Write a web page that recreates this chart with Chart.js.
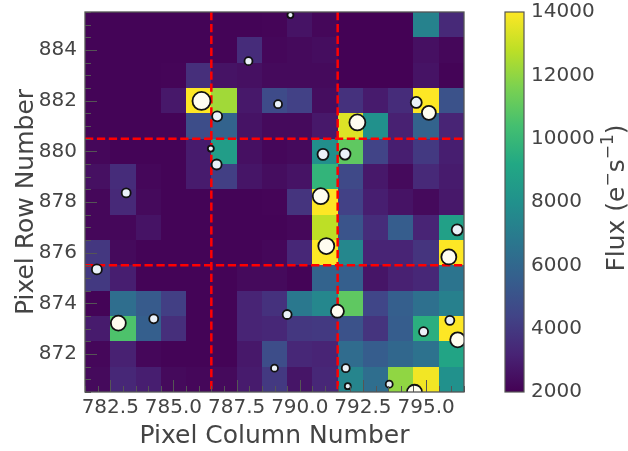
<!DOCTYPE html>
<html>
<head>
<meta charset="utf-8">
<script src="https://cdn.jsdelivr.net/npm/chart.js@4.4.1/dist/chart.umd.min.js"></script>
<style>
  body { margin: 0; background: #fff; }
  #tpf { display: block; }
</style>
</head>
<body>
<canvas id="tpf" width="628" height="451"></canvas>
<script>
const pixelColumns = [782, 783, 784, 785, 786, 787, 788, 789, 790, 791, 792, 793, 794, 795, 796];
const pixelRows = [885, 884, 883, 882, 881, 880, 879, 878, 877, 876, 875, 874, 873, 872, 871];

// flux per pixel, one row per entry of pixelRows (top to bottom)
const fluxGrid = [
  [2100, 2100, 2100, 2100, 2100, 2100, 2100, 2150, 2600, 2200, 2050, 2050, 2050, 7300, 3400],
  [2100, 2100, 2100, 2100, 2100, 2100, 3500, 2200, 2300, 2400, 2050, 2050, 2050, 2500, 2200],
  [2100, 2100, 2100, 2150, 3600, 2600, 2500, 2300, 2300, 2300, 2050, 2050, 2050, 2600, 2100],
  [2100, 2100, 2100, 2800, 14000, 12300, 2800, 4700, 4300, 2400, 3700, 2900, 3500, 14000, 5000],
  [2100, 2100, 2100, 2100, 4800, 5800, 2600, 2300, 2300, 2800, 13400, 8000, 3100, 5800, 3200],
  [2200, 2100, 2100, 2100, 2900, 8600, 2500, 2200, 2300, 7900, 11000, 4400, 3000, 4000, 3000],
  [2500, 3500, 2200, 2100, 2900, 4200, 2700, 2400, 2600, 9800, 4600, 2800, 2300, 3400, 2900],
  [2200, 3400, 2300, 2100, 2100, 2100, 2100, 2150, 3800, 14000, 4300, 3000, 2600, 2300, 2800],
  [2200, 2200, 2600, 2100, 2100, 2100, 2100, 2100, 2200, 12800, 5100, 3500, 5500, 3200, 8800],
  [3900, 2300, 2100, 2100, 2100, 2100, 2100, 2200, 3300, 14000, 7500, 3200, 3200, 3800, 14000],
  [4000, 3000, 2100, 2100, 2100, 2100, 2300, 2300, 2100, 5800, 5600, 2700, 3100, 3300, 6600],
  [2100, 6300, 5400, 4200, 2100, 2100, 3200, 3700, 6800, 7500, 11000, 4500, 5600, 6400, 7200],
  [2900, 10600, 5600, 3600, 2100, 2100, 3200, 3300, 3900, 4000, 5000, 3800, 5500, 9500, 14000],
  [2200, 3100, 2200, 2100, 2100, 2100, 2800, 4800, 3300, 3200, 6200, 5500, 6000, 6500, 9000],
  [2300, 3300, 3000, 2300, 2200, 2300, 2900, 4000, 2700, 3300, 7400, 6300, 12000, 13800, 8000]
];

// nearby sources
const starCols = [789.63, 787.97, 786.11, 786.73, 789.14, 786.48, 786.71, 783.13, 792.28, 794.61,
  795.11, 790.92, 791.79, 790.83, 791.05, 796.23, 795.9, 781.97, 782.82, 784.22,
  789.0, 789.5, 791.49, 795.94, 794.9, 796.25, 791.82, 791.9, 793.54, 794.54];
const starRows = [885.38, 883.56, 881.99, 881.38, 881.86, 880.11, 879.48, 878.36, 881.14, 881.93,
  881.52, 879.88, 879.89, 878.23, 876.26, 876.9, 875.83, 875.34, 873.22, 873.39,
  871.44, 873.56, 873.69, 873.33, 872.88, 872.56, 871.44, 870.73, 870.81, 870.49];
const starSizes = [3, 4, 9, 5, 4, 3, 5, 4.5, 8, 5.5,
  7, 5.5, 5.5, 8, 8, 5.5, 7.5, 5, 7.5, 4.5,
  3.5, 4.5, 6.5, 4.5, 4.5, 7.5, 4, 3, 3.5, 7.5];

const apertureCols = [786.5, 791.5];
const apertureRows = [875.5, 880.5];

const xTickLabels = [782.5, 785.0, 787.5, 790.0, 792.5, 795.0];
const yTickLabels = [872, 874, 876, 878, 880, 882, 884];
const fluxTicks = [2000, 4000, 6000, 8000, 10000, 12000, 14000];
const fluxMin = 2000;
const fluxMax = 14000;

const viridis = ['#440154', '#482475', '#414487', '#355f8d', '#2a788e', '#21918c',
  '#22a884', '#44bf70', '#7ad151', '#bddf26', '#fde725'];

const hexToRgb = (hex) => [1, 3, 5].map((i) => parseInt(hex.slice(i, i + 2), 16));

const fluxColor = (value) => {
  const t = Math.min(Math.max((value - fluxMin) / (fluxMax - fluxMin), 0), 1) * (viridis.length - 1);
  const i = Math.min(Math.floor(t), viridis.length - 2);
  const f = t - i;
  const a = hexToRgb(viridis[i]);
  const b = hexToRgb(viridis[i + 1]);
  const c = a.map((v, k) => Math.round(v + (b[k] - v) * f));
  return `rgb(${c[0]},${c[1]},${c[2]})`;
};

const textColor = '#444444';
const frameColor = '#555555';
const fontFamily = '"DejaVu Sans", sans-serif';

// the vertical scales would otherwise reserve label padding above/below the plot
const dropVerticalPadding = (scale) => {
  scale.paddingTop = 0;
  scale.paddingBottom = 0;
};

const pixelPlugin = {
  id: 'pixels',
  beforeDatasetsDraw(chart) {
    const { ctx, chartArea, scales } = chart;
    const xs = scales.x;
    const ys = scales.y;
    ctx.save();

    pixelRows.forEach((row, r) => {
      pixelColumns.forEach((col, c) => {
        const x0 = Math.round(xs.getPixelForValue(col - 0.5));
        const x1 = Math.round(xs.getPixelForValue(col + 0.5));
        const y0 = Math.round(ys.getPixelForValue(row + 0.5));
        const y1 = Math.round(ys.getPixelForValue(row - 0.5));
        ctx.fillStyle = fluxColor(fluxGrid[r][c]);
        ctx.fillRect(x0, y0, x1 - x0, y1 - y0);
      });
    });

    ctx.strokeStyle = '#ff0000';
    ctx.lineWidth = 2.5;
    ctx.setLineDash([8.3, 3.6]);
    apertureCols.forEach((col) => {
      const x = xs.getPixelForValue(col);
      ctx.beginPath();
      ctx.moveTo(x, chartArea.top);
      ctx.lineTo(x, chartArea.bottom);
      ctx.stroke();
    });
    apertureRows.forEach((row) => {
      const y = ys.getPixelForValue(row);
      ctx.beginPath();
      ctx.moveTo(chartArea.left, y);
      ctx.lineTo(chartArea.right, y);
      ctx.stroke();
    });
    ctx.restore();
  },
  afterDatasetsDraw(chart) {
    const { ctx, chartArea, scales } = chart;
    const xs = scales.x;
    const ys = scales.y;
    ctx.save();
    ctx.strokeStyle = frameColor;
    ctx.lineWidth = 1;

    // inward ticks, minor every half pixel
    for (let v = Math.ceil(xs.min * 2) / 2; v <= xs.max; v += 0.5) {
      const x = Math.round(xs.getPixelForValue(v)) + 0.5;
      const len = xTickLabels.includes(v) ? 12 : 6;
      ctx.beginPath();
      ctx.moveTo(x, chartArea.bottom);
      ctx.lineTo(x, chartArea.bottom - len);
      ctx.stroke();
    }
    for (let v = Math.ceil(ys.min * 2) / 2; v <= ys.max; v += 0.5) {
      const y = Math.round(ys.getPixelForValue(v)) + 0.5;
      const len = yTickLabels.includes(v) ? 12 : 6;
      ctx.beginPath();
      ctx.moveTo(chartArea.left, y);
      ctx.lineTo(chartArea.left + len, y);
      ctx.stroke();
    }

    ctx.lineWidth = 1.3;
    ctx.strokeRect(chartArea.left, chartArea.top, chartArea.right - chartArea.left, chartArea.bottom - chartArea.top);
    ctx.restore();
  },
  afterDraw(chart) {
    const { ctx } = chart;
    const cb = chart.scales.cb;
    const top = cb.getPixelForValue(fluxMax);
    const bottom = cb.getPixelForValue(fluxMin);
    const left = 505;
    const width = 19;
    ctx.save();

    const grad = ctx.createLinearGradient(0, bottom, 0, top);
    viridis.forEach((color, i) => grad.addColorStop(i / (viridis.length - 1), color));
    ctx.fillStyle = grad;
    ctx.fillRect(left, top, width, bottom - top);
    ctx.strokeStyle = frameColor;
    ctx.lineWidth = 1.2;
    ctx.strokeRect(left, top, width, bottom - top);

    // colorbar label, reading bottom to top
    const big = `25px ${fontFamily}`;
    const small = `17px ${fontFamily}`;
    const parts = [
      { text: 'Flux (e', font: big, rise: 0 },
      { text: '\u2212', font: small, rise: 11 },
      { text: 's', font: big, rise: 0 },
      { text: '\u2212', font: small, rise: 11 },
      { text: '1', font: small, rise: 11 },
      { text: ')', font: big, rise: 0 }
    ];
    let total = 0;
    parts.forEach((p) => {
      ctx.font = p.font;
      p.width = ctx.measureText(p.text).width;
      total += p.width;
    });
    ctx.translate(624, 198);
    ctx.rotate(-Math.PI / 2);
    ctx.fillStyle = textColor;
    ctx.textBaseline = 'alphabetic';
    let pos = -total / 2;
    parts.forEach((p) => {
      ctx.font = p.font;
      ctx.fillText(p.text, pos, -p.rise);
      pos += p.width;
    });
    ctx.restore();
  }
};

new Chart(document.getElementById('tpf'), {
  type: 'bubble',
  data: {
    datasets: [
      {
        data: starCols.map((x, i) => ({ x, y: starRows[i], r: starSizes[i] })),
        backgroundColor: (ctx) => (ctx.raw && ctx.raw.r >= 6 ? '#fffdf0' : '#eaf1f8'),
        borderColor: '#111111',
        borderWidth: 1.8,
        clip: 0
      }
    ]
  },
  options: {
    responsive: false,
    animation: false,
    devicePixelRatio: 1,
    events: [],
    layout: { autoPadding: false, padding: { top: 12, left: 0, right: 0, bottom: 0 } },
    plugins: {
      legend: { display: false },
      tooltip: { enabled: false }
    },
    scales: {
      x: {
        type: 'linear',
        min: 781.5,
        max: 796.5,
        grid: { display: false, drawTicks: false },
        border: { display: false },
        afterBuildTicks: (scale) => {
          scale.ticks = xTickLabels.map((value) => ({ value }));
        },
        afterFit: (scale) => {
          scale.height = 59;
          scale.paddingLeft = 0;
          scale.paddingRight = 0;
        },
        ticks: {
          autoSkip: false,
          maxRotation: 0,
          padding: 4,
          color: textColor,
          font: { family: fontFamily, size: 20 },
          callback: (value) => Number(value).toFixed(1)
        },
        title: {
          display: true,
          text: 'Pixel Column Number',
          color: textColor,
          padding: { top: 0, bottom: 0 },
          font: { family: fontFamily, size: 25 }
        }
      },
      y: {
        type: 'linear',
        min: 870.5,
        max: 885.5,
        grid: { display: false, drawTicks: false },
        border: { display: false },
        afterBuildTicks: (scale) => {
          scale.ticks = yTickLabels.map((value) => ({ value }));
        },
        afterFit: (scale) => {
          scale.width = 85;
          dropVerticalPadding(scale);
        },
        ticks: {
          autoSkip: false,
          padding: 8,
          color: textColor,
          font: { family: fontFamily, size: 20 },
          callback: (value) => String(value)
        },
        title: {
          display: true,
          text: 'Pixel Row Number',
          color: textColor,
          padding: { top: 11, bottom: 0 },
          font: { family: fontFamily, size: 25 }
        }
      },
      cb: {
        type: 'linear',
        axis: 'y',
        position: 'right',
        min: fluxMin,
        max: fluxMax,
        grid: { display: false, drawTicks: false },
        border: { display: false },
        afterBuildTicks: (scale) => {
          scale.ticks = fluxTicks.map((value) => ({ value }));
        },
        afterFit: (scale) => {
          scale.width = 164;
          dropVerticalPadding(scale);
        },
        ticks: {
          autoSkip: false,
          padding: 67,
          color: textColor,
          font: { family: fontFamily, size: 20 },
          callback: (value) => String(value)
        }
      }
    }
  },
  plugins: [pixelPlugin]
});
</script>
</body>
</html>
